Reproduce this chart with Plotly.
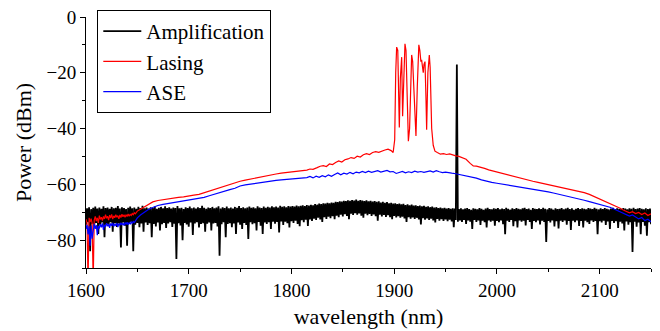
import plotly.graph_objects as go

# ---------------- data ----------------
# Amplification (black): readings on a 1 nm grid, split into the lower edge
# (even nm, 1600..2150) and the upper edge (odd nm, 1601..2149) of the noise band
amp_lo = [
    -74.5, -73.6, -84.0, -74.1, -75.2, -73.8, -77.8, -74.4, -73.7, -79.0,
    -74.2, -75.0, -73.6, -77.0, -73.9, -75.3, -74.0, -82.6, -73.7, -74.8,
    -82.0, -74.1, -73.6, -84.0, -74.5, -73.8, -75.4, -74.0, -77.0, -73.7,
    -74.6, -73.9, -79.0, -74.2, -75.1, -73.7, -76.5, -74.3, -73.8, -75.6,
    -74.0, -73.6, -75.3, -74.1, -86.8, -73.9, -74.7, -80.0, -73.8, -74.4,
    -75.2, -73.7, -78.2, -74.0, -73.6, -75.5, -74.2, -73.9, -77.0, -74.1,
    -73.7, -76.5, -74.0, -73.8, -75.1, -85.6, -74.3, -73.6, -79.0, -74.2,
    -73.9, -75.4, -74.0, -77.8, -73.7, -74.5, -76.0, -73.8, -74.6, -79.6,
    -73.6, -74.3, -73.9, -76.5, -73.5, -74.8, -77.8, -73.7, -74.2, -73.6,
    -76.0, -73.4, -74.1, -73.5, -77.3, -73.3, -74.6, -73.4, -73.9, -75.5,
    -73.2, -73.8, -73.0, -74.2, -75.0, -72.9, -73.6, -72.7, -74.9, -72.6,
    -73.1, -72.3, -72.8, -72.0, -72.6, -73.5, -71.8, -72.4, -71.6, -72.1,
    -71.4, -72.5, -71.2, -71.8, -70.9, -71.5, -70.7, -71.3, -72.5, -70.5,
    -71.0, -70.3, -70.9, -70.4, -71.2, -72.0, -70.5, -71.1, -70.6, -71.3,
    -70.8, -71.4, -73.0, -70.9, -71.5, -71.0, -71.7, -71.1, -71.8, -72.5,
    -71.3, -71.9, -71.4, -72.0, -71.6, -72.2, -73.5, -71.8, -72.3, -71.9,
    -72.4, -72.0, -72.6, -74.4, -72.1, -72.7, -72.2, -72.8, -72.3, -72.9,
    -73.7, -72.4, -73.0, -72.5, -73.1, -72.6, -73.2, -72.7, -73.3, -75.4,
    -72.8, -73.4, -72.9, -73.5, -72.8, -74.2, -72.9, -73.4, -76.0, -72.8,
    -73.5, -72.9, -74.6, -73.0, -73.6, -75.5, -72.9, -73.4, -73.0, -74.8,
    -73.1, -73.6, -72.9, -74.3, -77.9, -73.0, -73.5, -72.8, -75.0, -73.2,
    -75.5, -72.9, -73.4, -73.0, -74.7, -72.8, -73.5, -76.0, -73.1, -73.6,
    -72.9, -74.4, -73.0, -73.5, -80.7, -73.1, -73.7, -72.9, -75.1, -73.2,
    -75.8, -73.0, -73.5, -72.9, -74.5, -73.1, -76.4, -73.0, -73.6, -72.9,
    -74.9, -73.1, -75.5, -73.0, -73.6, -74.2, -72.9, -73.5, -73.1, -77.9,
    -73.2, -73.7, -73.0, -74.6, -73.3, -76.0, -73.1, -73.8, -73.2, -75.6,
    -73.4, -74.0, -76.5, -73.3, -74.5, -73.6, -84.3, -73.4, -75.2, -73.7,
    -77.9, -73.5, -74.8, -78.4, -73.6, -74.3,
]
amp_hi = [
    -68.6, -68.2, -68.9, -68.4, -68.0, -68.7, -68.3, -68.8, -67.9, -68.5,
    -68.3, -68.8, -68.1, -68.6, -68.4, -67.8, -68.7, -68.2, -68.5, -68.9,
    -68.4, -68.0, -68.6, -68.3, -68.8, -68.1, -68.5, -67.7, -68.6, -68.3,
    -68.7, -68.2, -68.5, -68.0, -68.8, -68.4, -68.1, -68.6, -67.9, -68.5,
    -68.2, -68.7, -68.3, -68.5, -67.8, -68.6, -68.4, -68.9, -68.2, -68.5,
    -68.0, -68.6, -68.3, -68.7, -68.2, -68.5, -67.7, -68.4, -68.8, -68.3,
    -68.5, -68.1, -68.6, -68.3, -67.9, -68.7, -68.2, -68.5, -68.0, -68.6,
    -68.3, -68.7, -68.1, -68.4, -67.8, -68.5, -68.2, -68.6, -68.3, -68.0,
    -68.4, -68.2, -68.6, -67.9, -68.3, -68.5, -68.0, -68.4, -68.1, -68.3,
    -67.9, -68.2, -68.0, -68.3, -67.7, -68.1, -67.9, -68.2, -67.8, -68.0,
    -67.8, -68.0, -67.6, -67.9, -67.7, -67.5, -67.8, -67.4, -67.6, -67.3,
    -67.5, -67.1, -67.3, -66.9, -67.1, -66.8, -66.9, -66.6, -66.8, -66.5,
    -66.6, -66.3, -66.4, -66.1, -66.2, -65.9, -66.0, -65.7, -65.9, -65.6,
    -65.8, -65.5, -65.9, -65.6, -65.8, -66.0, -65.7, -66.1, -65.9, -66.2,
    -66.0, -66.3, -66.1, -66.5, -66.3, -66.6, -66.4, -66.8, -66.6, -66.9,
    -66.8, -67.1, -66.9, -67.2, -67.0, -67.4, -67.2, -67.5, -67.3, -67.6,
    -67.5, -67.8, -67.6, -67.9, -67.7, -68.1, -67.9, -68.2, -68.0, -68.3,
    -68.2, -68.5, -68.3, -68.6, -68.4, -68.7, -68.5, -68.8, -68.6, -68.7,
    -17.0, -68.9, -68.6, -69.0, -68.7, -68.5, -68.9, -69.1, -68.6, -68.8,
    -69.0, -68.5, -68.8, -69.1, -68.7, -68.4, -68.9, -69.0, -68.6, -68.8,
    -68.5, -69.0, -68.7, -68.9, -68.4, -68.8, -69.1, -68.6, -68.9, -68.5,
    -68.8, -69.0, -68.6, -68.4, -68.9, -68.7, -69.1, -68.5, -68.8, -68.9,
    -68.6, -68.9, -68.4, -68.8, -69.0, -68.5, -68.7, -69.1, -68.6, -68.9,
    -68.8, -68.5, -69.0, -68.7, -68.4, -68.9, -68.6, -69.1, -68.8, -68.5,
    -68.9, -68.6, -68.8, -69.0, -68.5, -68.7, -68.9, -68.4, -68.8, -69.0,
    -68.6, -68.9, -68.5, -68.8, -69.0, -68.7, -68.4, -68.9, -68.6, -68.8,
    -68.9, -68.5, -68.7, -69.0, -68.6, -68.8, -68.4, -68.9, -68.7, -68.5,
    -68.8, -69.0, -68.6, -68.9, -68.7,
]
amp_wl = list(range(1600, 2151))
amp_db = [amp_lo[i // 2] if i % 2 == 0 else amp_hi[i // 2] for i in range(len(amp_wl))]

# Lasing (red)
las_wl = (
    list(range(1600, 1651))
    + [1653, 1656, 1660, 1665, 1670, 1675, 1680, 1685, 1690, 1695, 1700, 1705,
       1710, 1715, 1720, 1725, 1730, 1735, 1740, 1745, 1750, 1755, 1760, 1765,
       1770, 1775, 1780, 1785, 1790, 1795, 1800, 1805, 1810, 1815, 1818, 1821,
       1825, 1828, 1831, 1834, 1837, 1840, 1843, 1846, 1849, 1852, 1855, 1858,
       1861, 1864, 1867, 1870, 1873, 1876, 1879, 1882, 1885, 1888, 1891, 1894,
       1897, 1899,
       1900.5, 1901.5, 1902.4, 1903.5, 1904.3, 1905, 1906, 1907.3, 1908.2,
       1909.5, 1910.5, 1911.5, 1912.6, 1913.8, 1915, 1916, 1917, 1918, 1919,
       1919.6, 1920.4, 1921.2, 1922.5, 1923.3, 1924, 1925, 1926, 1926.7, 1927.5,
       1928.3, 1929, 1930, 1931, 1931.6, 1932.8, 1934.2, 1935, 1936, 1936.5,
       1938, 1939.7,
       1942, 1945, 1948, 1951, 1954, 1957, 1960, 1963, 1966, 1970, 1974, 1977,
       1980, 1984, 1988, 1992, 1996, 2000, 2005, 2010, 2015, 2020, 2025, 2030,
       2035, 2040, 2045, 2050, 2055, 2060, 2065, 2070, 2075, 2080, 2085, 2090,
       2095, 2100, 2105, 2110, 2115, 2120, 2123, 2126, 2129, 2132, 2135, 2138,
       2141, 2144, 2147, 2150]
)
las_db = [
    -72.5, -73.8, -95.0, -72.0, -73.5, -72.3, -74.0, -95.0, -72.8, -71.5,
    -73.2, -72.0, -73.8, -71.2, -72.6, -71.8, -73.0, -71.5, -72.4, -70.9,
    -72.2, -71.4, -72.8, -71.0, -72.1, -70.8, -72.5, -71.3, -72.0, -70.9,
    -71.8, -71.2, -72.4, -71.0, -71.9, -70.7, -71.6, -70.9, -71.8, -71.0,
    -71.5, -70.6, -71.4, -70.8, -71.2, -70.5, -70.9, -70.2, -70.6, -70.0,
    -69.6,
    -68.9, -68.2, -67.2, -66.3, -65.8, -65.5, -65.1, -64.9, -64.7, -64.5, -64.3, -63.9,
    -63.6, -63.0, -62.3, -61.8, -61.2, -60.6, -60.0, -59.4, -58.9, -58.5, -58.1, -57.7,
    -57.3, -56.9, -56.6, -56.3, -56.0, -55.8, -55.6, -55.4, -55.2, -54.9, -54.5, -54.6,
    -54.0, -53.5, -53.3, -53.6, -52.7, -52.9, -52.2, -51.6, -52.0, -51.2, -50.9, -50.4,
    -50.7, -49.9, -50.2, -49.4, -49.0, -49.3, -48.6, -48.3, -48.5, -48.0, -47.7, -47.4,
    -47.9, -48.6,
    -44.0, -20.0, -10.8, -12.0, -25.0, -39.6, -22.0, -14.4, -35.6,
    -15.0, -9.6, -12.0, -30.0, -44.5, -40.0, -20.0, -13.6, -16.0, -25.0,
    -33.2, -36.0, -42.7, -25.0, -12.0, -10.0, -12.0, -16.0, -15.4, -18.0,
    -20.0, -17.0, -16.0, -30.0, -40.4, -20.0, -13.6, -18.0, -35.0, -40.0,
    -46.0, -48.1,
    -48.6, -49.2, -49.0, -49.3, -49.1, -49.5, -49.8, -50.0, -50.4, -51.0, -52.5, -53.4,
    -53.5, -53.8, -54.3, -54.8, -55.2, -55.6, -56.0, -56.4, -56.9, -57.5, -58.0, -58.5,
    -58.9, -59.3, -59.7, -60.2, -60.6, -61.0, -61.3, -61.6, -62.0, -62.5, -63.0, -63.6,
    -64.4, -65.2, -66.0, -66.9, -67.8, -68.6, -69.2, -69.6, -70.2, -69.8, -70.5, -70.1,
    -70.8, -70.3, -71.2, -70.6,
]

# ASE (blue)
ase_wl = (
    list(range(1600, 1651))
    + [1653, 1656, 1660, 1665, 1670, 1675, 1680, 1685, 1690, 1695, 1700, 1705,
       1710, 1715, 1720, 1725, 1730, 1735, 1740, 1745, 1750, 1755, 1760, 1765,
       1770, 1775, 1780, 1785, 1790, 1795, 1800, 1805, 1810, 1815, 1818, 1821,
       1824, 1827, 1830, 1833, 1836, 1839, 1842, 1845, 1848, 1851, 1854, 1857,
       1860, 1863, 1866, 1869, 1872, 1875, 1878, 1881, 1884, 1887, 1890, 1893,
       1896, 1899, 1902, 1905, 1908, 1911, 1914, 1917, 1920, 1923, 1926, 1929,
       1932, 1935, 1938, 1941, 1944, 1947, 1950, 1953, 1956, 1960, 1964, 1968,
       1972, 1976, 1980, 1985, 1990, 1995, 2000, 2005, 2010, 2015, 2020, 2025,
       2030, 2035, 2040, 2045, 2050, 2055, 2060, 2065, 2070, 2075, 2080, 2085,
       2090, 2095, 2100, 2105, 2110, 2115, 2120, 2123, 2126, 2129, 2132, 2135,
       2138, 2141, 2144, 2147, 2150]
)
ase_db = [
    -76.0, -74.5, -78.0, -75.0, -82.0, -74.8, -79.5, -75.5, -74.2, -76.0,
    -74.6, -78.2, -74.9, -75.8, -74.3, -75.4, -74.0, -76.3, -74.5, -75.2,
    -73.9, -75.0, -74.2, -75.6, -74.0, -74.9, -73.8, -75.1, -74.3, -74.8,
    -73.9, -75.3, -74.1, -74.7, -73.8, -74.6, -73.9, -74.8, -73.7, -74.4,
    -73.6, -74.5, -73.8, -74.2, -73.5, -74.0, -73.3, -73.7, -73.0, -72.6,
    -72.0,
    -71.0, -70.2, -69.2, -68.3, -67.6, -67.2, -66.9, -66.6, -66.3, -66.1, -65.8, -65.5,
    -65.2, -64.7, -64.1, -63.5, -63.0, -62.4, -61.9, -61.4, -60.6, -60.2, -59.9, -59.6,
    -59.4, -59.1, -58.9, -58.6, -58.4, -58.2, -58.0, -57.9, -57.8, -57.6, -57.2, -57.7,
    -57.1, -57.5, -56.9, -57.3, -56.6, -57.1, -56.5, -55.9, -56.6, -56.0, -56.3, -55.7,
    -56.2, -55.6, -55.9, -55.4, -55.8, -55.3, -55.7, -55.5, -55.1, -55.6, -55.3, -55.0,
    -55.5, -55.4, -56.1, -55.8, -55.4, -55.9, -55.5, -55.8, -55.3, -55.6, -55.4, -55.7,
    -55.5, -55.2, -55.6, -55.1, -55.5, -55.8, -55.6, -55.9, -56.0, -56.2, -56.5, -56.8,
    -57.0, -57.3, -57.8, -58.4, -58.9, -59.3, -59.6, -59.9, -60.1, -60.4, -60.8, -61.1,
    -61.4, -61.7, -62.0, -62.3, -62.7, -63.1, -63.5, -63.9, -64.4, -64.8, -65.2, -65.7,
    -66.2, -66.7, -67.2, -67.6, -68.2, -69.0, -69.8, -70.3, -70.9, -71.4, -71.0, -71.8,
    -72.4, -71.9, -73.0, -72.5, -73.4,
]

x_ticks = [1600, 1700, 1800, 1900, 2000, 2100]
y_ticks = [0, -20, -40, -60, -80]

FONT = "Liberation Serif"

fig = go.Figure()
fig.add_trace(go.Scatter(x=amp_wl, y=amp_db, mode="lines", name="Amplification",
                         line=dict(color="black", width=1.8)))
fig.add_trace(go.Scatter(x=las_wl, y=las_db, mode="lines", name="Lasing",
                         line=dict(color="#ff0000", width=1.2)))
fig.add_trace(go.Scatter(x=ase_wl, y=ase_db, mode="lines", name="ASE",
                         line=dict(color="#0000ff", width=1.2)))

axis_common = dict(showline=True, linecolor="black", linewidth=1, mirror=False,
                   ticks="outside", ticklen=5, tickwidth=1, tickcolor="black",
                   showgrid=False, zeroline=False, automargin=False,
                   ticklabeloverflow="allow",
                   tickfont=dict(family=FONT, size=19, color="black"))

fig.update_xaxes(range=[1600, 2150], tickvals=x_ticks,
                 title=dict(text="wavelength (nm)", font=dict(family=FONT, size=22, color="black"),
                            standoff=8),
                 minor=dict(dtick=50, tick0=1600, ticks="outside", ticklen=3,
                            tickcolor="black", showgrid=False),
                 **axis_common)
fig.update_yaxes(range=[-90, 0], tickvals=y_ticks,
                 title=dict(text="Power (dBm)", font=dict(family=FONT, size=22, color="black"),
                            standoff=8),
                 minor=dict(dtick=10, tick0=0, ticks="outside", ticklen=3,
                            tickcolor="black", showgrid=False),
                 **axis_common)

# the page body adds an 8 px offset, so the figure is sized/margined to compensate
fig.update_layout(
    width=652, height=323,
    margin=dict(l=78, r=9, t=9, b=63, autoexpand=False),
    paper_bgcolor="white", plot_bgcolor="white",
    font=dict(family=FONT, color="black"),
    legend=dict(x=0.02, y=1.028, xanchor="left", yanchor="top",
                bordercolor="black", borderwidth=1, bgcolor="white",
                font=dict(family=FONT, size=21, color="black"),
                tracegroupgap=0, itemwidth=38),
    showlegend=True,
)

fig.write_html("out.html")
